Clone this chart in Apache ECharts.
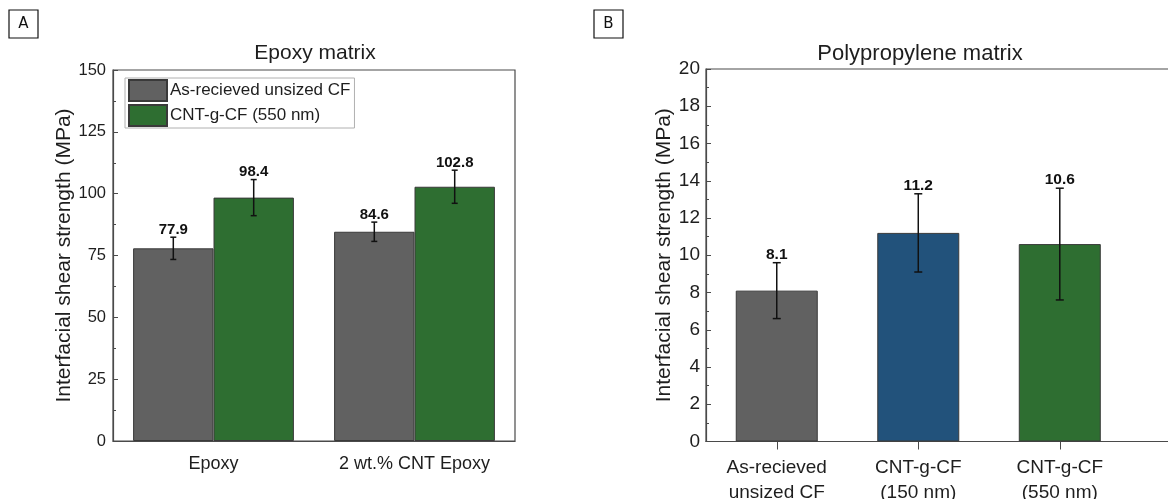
<!DOCTYPE html>
<html>
<head>
<meta charset="utf-8">
<script src="https://cdn.jsdelivr.net/npm/echarts@6/dist/echarts.min.js"></script>
<style>
html,body{margin:0;padding:0;background:#fff;}
#c{width:1168px;height:499px;}
</style>
</head>
<body>
<div id="c"></div>
<script>
// ---- data ----
const epoxyCategories = ['Epoxy', '2 wt.% CNT Epoxy'];
const epoxySeriesNames = ['As-recieved unsized CF', 'CNT-g-CF (550 nm)'];
const epoxyUnsized = [77.9, 84.6];
const epoxyUnsizedErr = [4.5, 3.9];
const epoxyCnt = [98.4, 102.8];
const epoxyCntErr = [7.3, 6.7];
const epoxyYTicks = {min: 0, max: 150, interval: 25};

const ppCategories = ['As-recieved\nunsized CF', 'CNT-g-CF\n(150 nm)', 'CNT-g-CF\n(550 nm)'];
const ppPositions = [1, 2, 3];
const ppValues = [8.1, 11.2, 10.6];
const ppErr = [1.5, 2.1, 3.0];
const ppYTicks = {min: 0, max: 20, interval: 2};

const titles = ['Epoxy matrix', 'Polypropylene matrix'];
const yName = 'Interfacial shear strength (MPa)';

// ---- style ----
const FONT = '"Liberation Sans", Arial, sans-serif';
const GRAY = '#616161', GREEN = '#2e6e31', BLUE = '#22527b';
const EDGE = '#3a3a3a', AXIS = '#4a4a4a', TXT = '#1e1e1e';
const ppColors = [GRAY, BLUE, GREEN];

function errGroup(cx, top, bot, v, cap, labelSize) {
  const ls = {stroke: '#111', lineWidth: 1.5};
  return {
    type: 'group',
    children: [
      {type: 'line', shape: {x1: cx, y1: top, x2: cx, y2: bot}, style: ls},
      {type: 'line', shape: {x1: cx - cap, y1: top, x2: cx + cap, y2: top}, style: ls},
      {type: 'line', shape: {x1: cx - cap, y1: bot, x2: cx + cap, y2: bot}, style: ls},
      {type: 'text', style: {text: v.toFixed(1), x: cx, y: top, align: 'center', verticalAlign: 'bottom',
        font: 'bold ' + labelSize + 'px ' + FONT, fill: '#111'}}
    ]
  };
}

function errRender(offsetFrac, cap, labelSize) {
  return function (params, api) {
    const x = api.value(0), v = api.value(1), e = api.value(2);
    const c = api.coord([x, v]);
    const bw = api.size([1, 0])[0];
    const cx = c[0] + offsetFrac * bw;
    const top = api.coord([x, v + e])[1];
    const bot = api.coord([x, v - e])[1];
    return errGroup(cx, top, bot, v, cap, labelSize);
  };
}

const chart = echarts.init(document.getElementById('c'), null, {renderer: 'canvas'});
const option = {
  backgroundColor: '#fff',
  animation: false,
  title: [
    {text: titles[0], left: 310, top: 38, textAlign: 'center', textStyle: {fontFamily: FONT, fontSize: 21, fontWeight: 'normal', color: TXT}},
    {text: titles[1], left: 915, top: 38, textAlign: 'center', textStyle: {fontFamily: FONT, fontSize: 22, fontWeight: 'normal', color: TXT}}
  ],
  legend: {
    data: epoxySeriesNames,
    orient: 'vertical', left: 125, top: 78,
    itemWidth: 38, itemHeight: 21, itemGap: 2, icon: 'rect',
    padding: [1, 4, 1, 3], borderColor: '#b0b0b0', borderWidth: 1,
    textStyle: {fontFamily: FONT, fontSize: 17, color: TXT, padding: [0, 0, 0, -2], lineHeight: 21}
  },
  grid: [
    {left: 113, right: 653, top: 70, bottom: 58, outerBoundsMode: 'none', containLabel: false,
     show: true, borderColor: AXIS, borderWidth: 1.2, backgroundColor: 'transparent'},
    {left: 706, right: -5, top: 69, bottom: 57.5, outerBoundsMode: 'none', containLabel: false,
     show: true, borderColor: AXIS, borderWidth: 1.2, backgroundColor: 'transparent'}
  ],
  xAxis: [
    {gridIndex: 0, type: 'category', data: epoxyCategories,
     axisLine: {lineStyle: {color: AXIS, width: 1.2}},
     axisTick: {alignWithLabel: true, length: 8, lineStyle: {color: AXIS}},
     axisLabel: {fontFamily: FONT, fontSize: 18, color: TXT, margin: 14}},
    {gridIndex: 1, type: 'value', min: 0.5, max: 3.8,
     splitLine: {show: false},
     axisLine: {lineStyle: {color: AXIS, width: 1.2}},
     axisTick: {customValues: ppPositions, length: 8, lineStyle: {color: AXIS}},
     axisLabel: {customValues: ppPositions, fontFamily: FONT, fontSize: 19, color: TXT, margin: 14, lineHeight: 25,
       formatter: function (v) { return ppCategories[ppPositions.indexOf(Math.round(v))] || ''; }}}
  ],
  yAxis: [
    {gridIndex: 0, type: 'value', min: epoxyYTicks.min, max: epoxyYTicks.max, interval: epoxyYTicks.interval,
     name: yName, nameLocation: 'middle', nameGap: 33,
     nameTextStyle: {fontFamily: FONT, fontSize: 21, color: TXT},
     splitLine: {show: false},
     axisLine: {show: true, lineStyle: {color: AXIS, width: 1.2}},
     axisTick: {show: true, inside: true, length: 5, lineStyle: {color: AXIS}},
     minorTick: {show: true, splitNumber: 2, length: 3, lineStyle: {color: AXIS}},
     axisLabel: {fontFamily: FONT, fontSize: 16.5, color: TXT, margin: 7}},
    {gridIndex: 1, type: 'value', min: ppYTicks.min, max: ppYTicks.max, interval: ppYTicks.interval,
     name: yName, nameLocation: 'middle', nameGap: 29,
     nameTextStyle: {fontFamily: FONT, fontSize: 21, color: TXT},
     splitLine: {show: false},
     axisLine: {show: true, lineStyle: {color: AXIS, width: 1.2}},
     axisTick: {show: true, inside: true, length: 5, lineStyle: {color: AXIS}},
     minorTick: {show: true, splitNumber: 2, length: 3, lineStyle: {color: AXIS}},
     axisLabel: {fontFamily: FONT, fontSize: 19, color: TXT, margin: 6}}
  ],
  series: [
    {name: epoxySeriesNames[0], type: 'bar', xAxisIndex: 0, yAxisIndex: 0, data: epoxyUnsized,
     barGap: '0%', barCategoryGap: '20%',
     itemStyle: {color: GRAY, borderColor: EDGE, borderWidth: 1}},
    {name: epoxySeriesNames[1], type: 'bar', xAxisIndex: 0, yAxisIndex: 0, data: epoxyCnt,
     barGap: '0%', barCategoryGap: '20%',
     itemStyle: {color: GREEN, borderColor: EDGE, borderWidth: 1}},
    {type: 'custom', xAxisIndex: 0, yAxisIndex: 0, z: 5,
     data: epoxyUnsized.map((v, i) => [i, v, epoxyUnsizedErr[i]]),
     encode: {x: 0, y: 1}, renderItem: errRender(-0.2, 3, 15)},
    {type: 'custom', xAxisIndex: 0, yAxisIndex: 0, z: 5,
     data: epoxyCnt.map((v, i) => [i, v, epoxyCntErr[i]]),
     encode: {x: 0, y: 1}, renderItem: errRender(0.2, 3, 15)},
    {type: 'bar', xAxisIndex: 1, yAxisIndex: 1, barWidth: 82,
     data: ppValues.map((v, i) => ({value: [ppPositions[i], v], itemStyle: {color: ppColors[i]}})),
     itemStyle: {borderColor: EDGE, borderWidth: 1}},
    {type: 'custom', xAxisIndex: 1, yAxisIndex: 1, z: 5,
     data: ppValues.map((v, i) => [ppPositions[i], v, ppErr[i]]),
     encode: {x: 0, y: 1},
     renderItem: function (params, api) {
       const x = api.value(0), v = api.value(1), e = api.value(2);
       const cx = api.coord([x, v])[0];
       const top = api.coord([x, v + e])[1];
       const bot = api.coord([x, v - e])[1];
       return errGroup(cx, top, bot, v, 4, 15.5);
     }}
  ],
  graphic: [
    {type: 'rect', shape: {x: 9, y: 10, width: 29, height: 28}, style: {fill: '#fff', stroke: '#111', lineWidth: 1.2}},
    {type: 'text', x: 23.5, y: 24, style: {text: 'A', align: 'center', verticalAlign: 'middle', font: '15px "DejaVu Sans", sans-serif', fill: '#111'}},
    {type: 'rect', shape: {x: 594, y: 10, width: 29, height: 28}, style: {fill: '#fff', stroke: '#111', lineWidth: 1.2}},
    {type: 'text', x: 608.5, y: 24, style: {text: 'B', align: 'center', verticalAlign: 'middle', font: '15px "DejaVu Sans", sans-serif', fill: '#111'}}
  ]
};
chart.setOption(option);
</script>
</body>
</html>
